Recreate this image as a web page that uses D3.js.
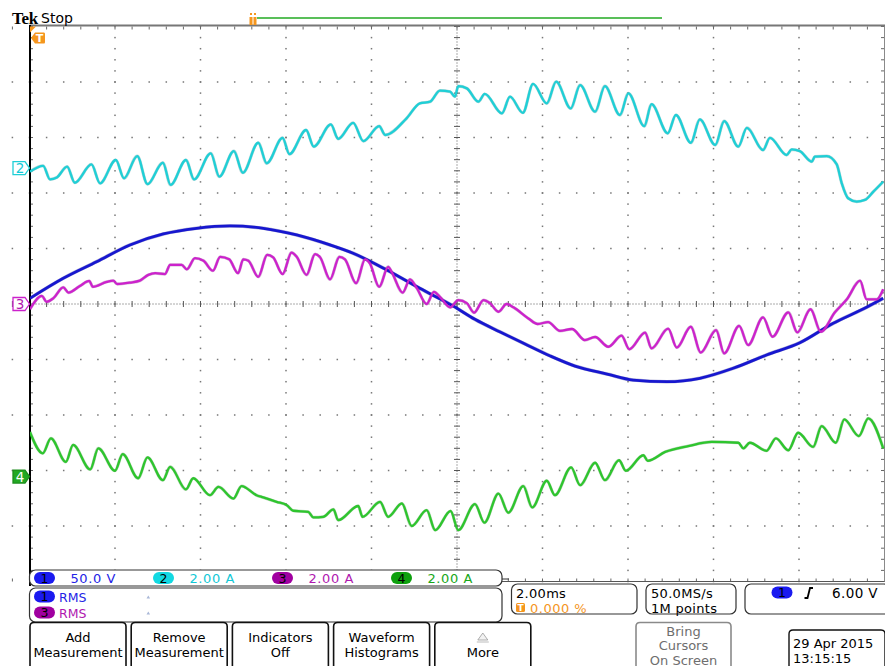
<!DOCTYPE html>
<html>
<head>
<meta charset="utf-8">
<script src="https://cdn.jsdelivr.net/npm/d3@7"></script>
<style>
  html, body { margin: 0; padding: 0; background: #fff; }
  svg { display: block; font-family: "DejaVu Sans", "Liberation Sans", sans-serif; }
</style>
</head>
<body>
<svg id="scope" width="885" height="666"></svg>
<script>
// ---- Acquired waveforms: [time (ms), value] ----
const ch1Volts = [[-9.99,5.1],[-9.21,23.2],[-8.43,38.1],[-7.65,53.2],[-6.87,63.1],[-6.09,68.2],[-5.31,70.3],[-4.53,68.2],[-3.75,62.2],[-2.97,53.2],[-2.43,45.7],[-1.64,30.6],[-0.87,14.1],[-0.09,-1.8],[0.42,-13.8],[1.01,-25.2],[1.59,-36.0],[2.18,-46.8],[2.76,-55.9],[3.51,-63.1],[4.12,-68.5],[4.91,-70.0],[5.68,-66.9],[6.46,-57.9],[7.24,-45.9],[8.02,-34.9],[8.80,-17.4],[9.58,-3.0],[9.97,5.1]];

const ch2Amps = [[-9.99,-0.13],[-9.68,0.08],[-9.52,-0.41],[-9.36,-0.34],[-9.12,0.05],[-8.94,-0.53],[-8.55,0.13],[-8.35,-0.55],[-7.98,0.29],[-7.79,-0.37],[-7.48,0.43],[-7.24,-0.58],[-6.88,0.19],[-6.70,-0.61],[-6.34,0.29],[-6.15,-0.41],[-5.76,0.53],[-5.56,-0.31],[-5.22,0.61],[-5.01,-0.17],[-4.65,0.91],[-4.45,0.17],[-4.08,1.09],[-3.92,0.50],[-3.53,1.37],[-3.35,0.77],[-2.95,1.57],[-2.78,1.05],[-2.43,1.63],[-2.19,0.97],[-1.82,1.51],[-1.68,1.19],[-1.18,1.79],[-0.87,2.33],[-0.63,2.39],[-0.40,2.79],[-0.16,2.75],[-0.05,2.57],[0.03,2.95],[0.23,2.87],[0.50,2.39],[0.65,2.67],[1.05,1.97],[1.24,2.57],[1.54,1.99],[1.78,3.03],[2.10,2.33],[2.32,3.11],[2.66,2.15],[2.88,2.99],[3.23,2.03],[3.46,2.95],[3.81,1.91],[4.01,2.69],[4.38,1.51],[4.55,2.30],[4.93,1.25],[5.12,1.91],[5.47,0.91],[5.68,1.75],[6.04,0.83],[6.25,1.69],[6.58,0.77],[6.78,1.45],[7.16,0.65],[7.32,1.09],[7.71,0.47],[7.83,0.67],[8.02,0.61],[8.30,0.23],[8.37,0.41],[8.65,0.43],[8.88,0.14],[9.00,-0.55],[9.15,-1.09],[9.35,-1.21],[9.54,-1.15],[9.74,-0.85],[9.97,-0.49]];

const ch3Amps = [[-9.99,-0.19],[-9.71,0.29],[-9.60,0.08],[-9.44,0.21],[-9.21,0.60],[-9.09,0.41],[-8.82,0.65],[-8.60,0.83],[-8.52,0.62],[-8.19,0.80],[-8.04,0.84],[-7.95,0.72],[-7.65,0.77],[-7.42,0.84],[-7.22,1.05],[-7.06,1.11],[-6.83,1.08],[-6.71,1.41],[-6.44,1.41],[-6.32,1.25],[-6.13,1.65],[-5.93,1.56],[-5.71,1.20],[-5.54,1.70],[-5.33,1.61],[-5.12,1.11],[-5.00,1.61],[-4.88,1.56],[-4.65,0.98],[-4.44,1.77],[-4.30,1.68],[-4.08,1.08],[-3.87,1.85],[-3.75,1.70],[-3.52,1.05],[-3.32,1.80],[-3.20,1.68],[-2.97,0.89],[-2.75,1.70],[-2.62,1.61],[-2.36,0.75],[-2.15,1.61],[-2.04,1.47],[-1.82,0.62],[-1.61,1.34],[-1.53,1.16],[-1.27,0.41],[-1.10,0.89],[-0.94,0.57],[-0.71,0.00],[-0.54,0.44],[-0.40,0.26],[-0.16,-0.12],[0.03,0.14],[0.23,0.03],[0.40,-0.31],[0.62,0.14],[0.77,0.03],[0.97,-0.28],[1.16,0.00],[1.32,-0.12],[1.67,-0.52],[1.89,-0.72],[2.13,-0.65],[2.41,-0.97],[2.69,-0.90],[2.99,-1.30],[3.23,-1.19],[3.54,-1.54],[3.85,-1.14],[4.03,-1.63],[4.40,-1.03],[4.55,-1.60],[4.94,-0.89],[5.14,-1.57],[5.47,-0.82],[5.70,-1.75],[6.06,-0.94],[6.25,-1.78],[6.60,-0.79],[6.81,-1.48],[7.16,-0.48],[7.38,-1.18],[7.75,-0.30],[7.96,-1.02],[8.27,-0.19],[8.51,-1.00],[8.84,-0.30],[9.12,0.17],[9.43,0.84],[9.58,0.17],[9.82,0.17],[9.97,0.53]];

const ch4Amps = [[-9.99,1.61],[-9.69,0.84],[-9.50,1.38],[-9.15,0.53],[-8.98,1.14],[-8.58,0.26],[-8.39,1.02],[-8.00,0.21],[-7.82,0.81],[-7.46,-0.06],[-7.24,0.69],[-6.88,-0.13],[-6.71,0.35],[-6.34,-0.46],[-6.17,-0.06],[-5.78,-0.67],[-5.58,-0.37],[-5.23,-0.79],[-5.04,-0.34],[-4.69,-0.67],[-4.53,-0.75],[-4.22,-0.91],[-3.98,-1.03],[-3.83,-1.23],[-3.48,-1.27],[-3.36,-1.47],[-3.13,-1.45],[-2.89,-1.18],[-2.78,-1.57],[-2.31,-1.06],[-2.21,-1.45],[-1.80,-0.91],[-1.61,-1.45],[-1.29,-0.97],[-1.06,-1.78],[-0.71,-1.21],[-0.51,-1.93],[-0.15,-1.24],[0.03,-1.93],[0.42,-0.99],[0.64,-1.66],[0.97,-0.61],[1.20,-1.30],[1.55,-0.34],[1.76,-1.11],[2.10,-0.15],[2.29,-0.67],[2.67,0.33],[2.88,-0.31],[3.23,0.50],[3.46,-0.13],[3.79,0.59],[3.95,0.21],[4.36,0.77],[4.46,0.57],[4.87,0.89],[5.41,1.10],[5.96,1.25],[6.58,1.22],[6.70,1.02],[6.85,1.22],[7.24,0.93],[7.46,1.38],[7.75,0.95],[7.98,1.58],[8.33,1.07],[8.53,1.82],[8.86,1.22],[9.06,2.06],[9.40,1.46],[9.62,2.10],[9.97,1.02]];

// ---- Readout text ----
const scaleLabels = ["50.0 V", "2.00 A", "2.00 A", "2.00 A"];
const measurementLabels = ["RMS", "RMS"];
const timebaseLines = ["2.00ms", "0.000 %"];
const acquisitionLines = ["50.0MS/s", "1M points"];
const triggerLevel = "6.00 V";
const buttonLabels = [["Add","Measurement"],["Remove","Measurement"],["Indicators","Off"],["Waveform","Histograms"],["","More"]];
const cursorLabel = ["Bring","Cursors","On Screen"];
const stamp = ["29 Apr 2015", "13:15:15"];

// ---- Channel setup (volts/amps per division, position in divisions) ----
const channels = [
  { id: 1, data: ch1Volts, perDiv: 50, pos: 0,     trace: "#1717cf", pill: "#1a1af0", text: "#2424e6", w: 2.8 },
  { id: 2, data: ch2Amps,  perDiv: 2,  pos: 2.45,  trace: "#1fcfd6", pill: "#12d9e2", text: "#12c8d6", w: 2.3 },
  { id: 3, data: ch3Amps,  perDiv: 2,  pos: 0,     trace: "#cc22cc", pill: "#a000a0", text: "#b018b0", w: 2.3 },
  { id: 4, data: ch4Amps,  perDiv: 2,  pos: -3.11, trace: "#2ec52e", pill: "#0ea00e", text: "#18a818", w: 2.3 }
];

const svg = d3.select("#scope");
const x = d3.scaleLinear().domain([-10, 10]).range([29.5, 884.5]);   // ms
const dv = d3.scaleLinear().domain([-5, 5]).range([581.5, 26.5]);    // divisions
const ORANGE = "#f5961e";

// ---- Graticule ----
const g = svg.append("g");
const minorT = d3.range(-50, 51).map(i => i * 0.4);
const minorD = d3.range(-25, 26).map(i => i * 0.2);
const majorT = d3.range(-4, 5).filter(i => i !== 0).map(i => i * 2);
const majorD = d3.range(-4, 5).filter(i => i !== 0);

majorT.forEach(t => {
  g.selectAll(null).data(minorD).join("rect")
    .attr("x", x(t) - 0.75).attr("y", d => dv(d) - 0.75)
    .attr("width", 1.5).attr("height", 1.5).attr("fill", "#777");
});
majorD.forEach(d0 => {
  g.selectAll(null).data(minorT).join("rect")
    .attr("x", t => x(t) - 0.75).attr("y", dv(d0) - 0.75)
    .attr("width", 1.5).attr("height", 1.5).attr("fill", "#777");
});

// centre cross-hair
g.append("line").attr("x1", x(0)).attr("x2", x(0)).attr("y1", dv(5)).attr("y2", dv(-5))
  .attr("stroke", "#555").attr("stroke-width", 1).attr("stroke-dasharray", "1,2");
g.append("line").attr("x1", x(-10)).attr("x2", x(10)).attr("y1", dv(0)).attr("y2", dv(0))
  .attr("stroke", "#555").attr("stroke-width", 1).attr("stroke-dasharray", "1,2");
g.selectAll(null).data(minorD).join("line")
  .attr("x1", x(0) - 3).attr("x2", x(0) + 3).attr("y1", d => dv(d)).attr("y2", d => dv(d))
  .attr("stroke", "#555");
g.selectAll(null).data(minorT).join("line")
  .attr("x1", t => x(t)).attr("x2", t => x(t)).attr("y1", dv(0) - 3).attr("y2", dv(0) + 3)
  .attr("stroke", "#555");

// edge ticks
g.selectAll(null).data(minorT).join("line")
  .attr("x1", t => x(t)).attr("x2", t => x(t)).attr("y1", dv(5)).attr("y2", dv(5) + 3)
  .attr("stroke", "#666");
g.selectAll(null).data(minorT).join("line")
  .attr("x1", t => x(t)).attr("x2", t => x(t)).attr("y1", dv(-5)).attr("y2", dv(-5) - 3)
  .attr("stroke", "#666");
g.selectAll(null).data(minorD).join("line")
  .attr("x1", x(-10)).attr("x2", x(-10) + 3.5).attr("y1", d => dv(d)).attr("y2", d => dv(d))
  .attr("stroke", "#666");
g.selectAll(null).data(minorD).join("line")
  .attr("x1", x(10)).attr("x2", x(10) - 3.5).attr("y1", d => dv(d)).attr("y2", d => dv(d))
  .attr("stroke", "#666");

// frame
g.append("line").attr("x1", x(10)).attr("x2", x(10)).attr("y1", dv(5)).attr("y2", dv(-5))
  .attr("stroke", "#8a8a8a").attr("stroke-width", 1);
g.append("line").attr("x1", x(-10)).attr("x2", x(10)).attr("y1", dv(-5)).attr("y2", dv(-5))
  .attr("stroke", "#555").attr("stroke-width", 1);
g.append("line").attr("x1", 29.5).attr("x2", 885).attr("y1", 25.5).attr("y2", 25.5)
  .attr("stroke", "#777").attr("stroke-width", 2);
g.append("line").attr("x1", 30).attr("x2", 30).attr("y1", 25).attr("y2", 586)
  .attr("stroke", "#000").attr("stroke-width", 2);

// ---- Traces ----
svg.append("clipPath").attr("id", "plotClip").append("rect")
  .attr("x", 30).attr("y", 27).attr("width", 855).attr("height", 555);
const traces = svg.append("g").attr("clip-path", "url(#plotClip)");
const drawOrder = [3, 1, 0, 2];
drawOrder.forEach(i => {
  const ch = channels[i];
  const line = d3.line()
    .x(d => x(d[0]))
    .y(d => dv(ch.pos + d[1] / ch.perDiv))
    .curve(d3.curveMonotoneX);
  traces.append("path").datum(ch.data).attr("d", line)
    .attr("fill", "none").attr("stroke", d3.color(ch.trace).darker(1.4))
    .attr("stroke-opacity", 0.3).attr("stroke-width", ch.w + 0.8)
    .attr("stroke-linejoin", "round");
  traces.append("path").datum(ch.data).attr("d", line)
    .attr("fill", "none").attr("stroke", ch.trace)
    .attr("stroke-width", ch.w).attr("stroke-linejoin", "round");
});

// ---- Header ----
svg.append("text").attr("x", 12).attr("y", 24)
  .attr("font-family", "Liberation Serif, serif").attr("font-weight", "bold")
  .attr("font-size", 17).attr("letter-spacing", -0.3).attr("fill", "#000").text("Tek");
svg.append("text").attr("x", 41).attr("y", 23)
  .attr("font-size", 14).attr("fill", "#000").text("Stop");
// record view bar and trigger position marker
svg.append("line").attr("x1", 257).attr("x2", 662).attr("y1", 18).attr("y2", 18)
  .attr("stroke", "#22aa22").attr("stroke-width", 1.5);
[249.5, 253.5].forEach(px => {
  svg.append("rect").attr("x", px).attr("y", 17).attr("width", 3).attr("height", 8).attr("fill", ORANGE);
  svg.append("rect").attr("x", px + 0.5).attr("y", 13).attr("width", 2).attr("height", 2).attr("fill", ORANGE);
});
// trigger marker at plot corner
svg.append("path").attr("d", "M30,26.5 L36,26.5 L30,32.5 Z").attr("fill", ORANGE);
svg.append("path").attr("d", "M31,38 L35,32.5 L44,32.5 Q45,32.5 45,34 L45,42 Q45,43.5 44,43.5 L35,43.5 Z")
  .attr("fill", ORANGE);
svg.append("text").attr("x", 39.5).attr("y", 42.3).attr("text-anchor", "middle")
  .attr("font-size", 11).attr("font-weight", "bold").attr("fill", "#fff").text("T");

// ---- Channel position markers ----
function chanMarker(ch, filled) {
  const cy = dv(ch.pos);
  const path = `M13,${cy - 6.5} L25,${cy - 6.5} L29.5,${cy} L25,${cy + 6.5} L13,${cy + 6.5} Z`;
  svg.append("path").attr("d", path)
    .attr("fill", filled ? ch.pill : "#fff")
    .attr("stroke", filled ? d3.color(ch.pill).darker(0.5) : ch.trace).attr("stroke-width", 1.3);
  svg.append("text").attr("x", 20).attr("y", cy + 5).attr("text-anchor", "middle")
    .attr("font-size", 13.5).attr("fill", filled ? "#fff" : ch.text).text(ch.id);
}
chanMarker(channels[1], false);
chanMarker(channels[2], false);
chanMarker({ ...channels[3], pill: "#22a822" }, true);

// ---- Readout panels ----
function panel(x0, y0, x1, y1, stroke) {
  svg.append("rect").attr("x", x0).attr("y", y0).attr("width", x1 - x0).attr("height", y1 - y0)
    .attr("rx", 6).attr("fill", "#fff").attr("stroke", stroke || "#333").attr("stroke-width", 1.2);
}
function pill(cx, cy, fill, label) {
  svg.append("rect").attr("x", cx - 10.5).attr("y", cy - 6).attr("width", 21).attr("height", 12)
    .attr("rx", 6).attr("fill", fill);
  svg.append("text").attr("x", cx).attr("y", cy + 4.5).attr("text-anchor", "middle")
    .attr("font-size", 12.5).attr("fill", "#000").text(label);
}

panel(29.5, 570, 502, 586);
svg.append("line").attr("x1", 502).attr("x2", 509).attr("y1", 579).attr("y2", 579).attr("stroke", "#333");
const scaleSlots = [44.5, 163.5, 282.5, 401.5];
channels.forEach((ch, i) => {
  pill(scaleSlots[i], 578, ch.pill, ch.id);
  svg.append("text").attr("x", scaleSlots[i] + 26).attr("y", 582.8)
    .attr("font-size", 13).attr("letter-spacing", 0.6).attr("fill", ch.text).text(scaleLabels[i]);
});

panel(29.5, 588, 502, 622);
[[0, 596.5], [2, 612.5]].forEach(([ci, cy], k) => {
  const ch = channels[ci];
  pill(44.5, cy, ch.pill, ch.id);
  svg.append("text").attr("x", 59).attr("y", cy + 5)
    .attr("font-size", 12.5).attr("fill", ch.text).text(measurementLabels[k]);
  svg.append("path").attr("d", `M146.5,${cy + 2} L148.3,${cy - 1} L150.1,${cy + 2} Z`).attr("fill", "#aab8d8");
});

// timebase
panel(511.5, 584, 637, 614);
svg.append("text").attr("x", 516).attr("y", 597.5).attr("font-size", 13).attr("letter-spacing", 0.3)
  .attr("fill", "#000").text(timebaseLines[0]);
svg.append("rect").attr("x", 516).attr("y", 603).attr("width", 9).attr("height", 9).attr("rx", 1.5).attr("fill", ORANGE);
svg.append("text").attr("x", 520.5).attr("y", 611).attr("text-anchor", "middle").attr("font-size", 9)
  .attr("font-weight", "bold").attr("fill", "#fff").text("T");
svg.append("text").attr("x", 530).attr("y", 612.5).attr("font-size", 13).attr("letter-spacing", 0.5)
  .attr("fill", ORANGE).text(timebaseLines[1]);

// acquisition
panel(646, 584, 736, 614);
svg.append("text").attr("x", 651).attr("y", 597.5).attr("font-size", 13).attr("letter-spacing", 0.3)
  .attr("fill", "#000").text(acquisitionLines[0]);
svg.append("text").attr("x", 651).attr("y", 612.5).attr("font-size", 13).attr("letter-spacing", 0.3)
  .attr("fill", "#000").text(acquisitionLines[1]);

// trigger
panel(745, 584, 890, 614);
pill(782, 592.5, channels[0].pill, 1);
svg.append("path").attr("d", "M804.5,598 L807.5,598 L810,588 L813,588")
  .attr("fill", "none").attr("stroke", "#000").attr("stroke-width", 1.8);
svg.append("text").attr("x", 878).attr("y", 598).attr("text-anchor", "end")
  .attr("font-size", 13.5).attr("letter-spacing", 0.4).attr("fill", "#000").text(triggerLevel);

// ---- Soft-key buttons ----
const btnW = 96, btnGap = 5.2;
function buttonFrame(x0, x1, y0, stroke) {
  svg.append("path")
    .attr("d", `M${x0},670 L${x0},${y0 + 4} Q${x0},${y0} ${x0 + 4},${y0} L${x1 - 4},${y0} Q${x1},${y0} ${x1},${y0 + 4} L${x1},670`)
    .attr("fill", "#fff").attr("stroke", stroke).attr("stroke-width", 1.6);
}
buttonLabels.forEach((lines, i) => {
  const x0 = 30 + i * (btnW + btnGap), x1 = x0 + btnW;
  buttonFrame(x0, x1, 622.5, "#111");
  const cx = (x0 + x1) / 2;
  lines.forEach((s, k) => {
    if (s) svg.append("text").attr("x", cx).attr("y", 642 + k * 15).attr("text-anchor", "middle")
      .attr("font-size", 13).attr("fill", "#000").text(s);
  });
  if (!lines[0]) {
    svg.append("path").attr("d", `M${cx - 5},640 L${cx},633 L${cx + 5},640 Z`)
      .attr("fill", "#f2f2f2").attr("stroke", "#999").attr("stroke-width", 0.8);
    svg.append("line").attr("x1", cx - 6).attr("x2", cx + 6).attr("y1", 642).attr("y2", 642)
      .attr("stroke", "#bbb").attr("stroke-width", 1);
  }
});

buttonFrame(636, 731, 622.5, "#8a8a8a");
cursorLabel.forEach((s, k) => {
  svg.append("text").attr("x", 683.5).attr("y", 635.5 + k * 14.5).attr("text-anchor", "middle")
    .attr("font-size", 13).attr("fill", "#6e6e6e").text(s);
});

svg.append("path")
  .attr("d", "M789,670 L789,634 Q789,630 793,630 L881,630 Q885,630 885,634 L885,670")
  .attr("fill", "#fff").attr("stroke", "#111").attr("stroke-width", 1.4);
stamp.forEach((s, k) => {
  svg.append("text").attr("x", 793).attr("y", 648 + k * 14.5)
    .attr("font-size", 13).attr("fill", "#000").text(s);
});
</script>
</body>
</html>
